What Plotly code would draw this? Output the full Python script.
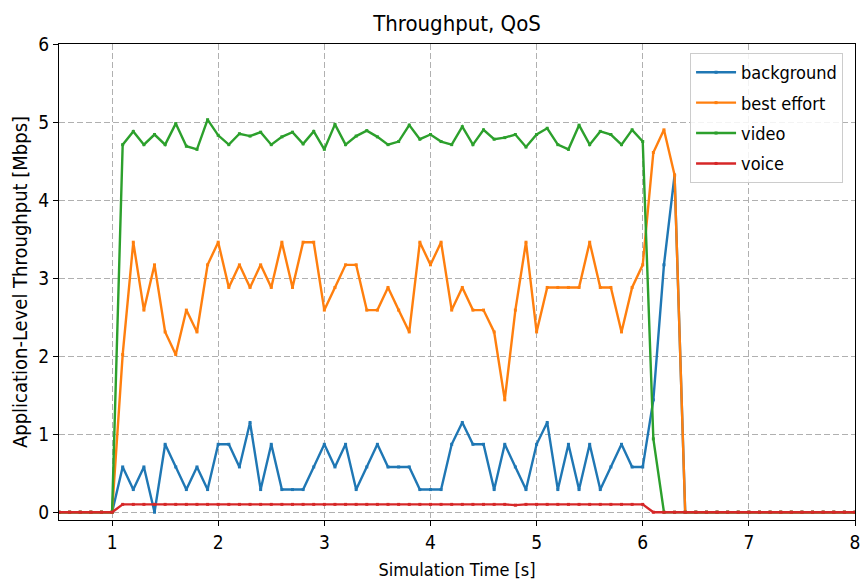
import plotly.graph_objects as go

# Sample times (s), 0.1 s bins shown from 0.5 to 8.0
time_s = [round(0.5 + 0.1 * i, 1) for i in range(76)]

background = [0, 0, 0, 0, 0, 0,
              0.58, 0.29, 0.58, 0.0, 0.87, 0.58, 0.29, 0.58, 0.29, 0.87,
              0.87, 0.58, 1.15, 0.29, 0.87, 0.29, 0.29, 0.29, 0.58, 0.87,
              0.58, 0.87, 0.29, 0.58, 0.87, 0.58, 0.58, 0.58, 0.29, 0.29,
              0.29, 0.87, 1.15, 0.87, 0.87, 0.29, 0.87, 0.58, 0.29, 0.87,
              1.15, 0.29, 0.87, 0.29, 0.87, 0.29, 0.58, 0.87, 0.58, 0.58,
              1.44, 3.17, 4.32,
              0, 0, 0, 0, 0, 0, 0, 0, 0, 0, 0, 0, 0, 0, 0, 0, 0]

best_effort = [0, 0, 0, 0, 0, 0,
               2.02, 3.46, 2.59, 3.17, 2.31, 2.02, 2.59, 2.31, 3.17, 3.46,
               2.88, 3.17, 2.88, 3.17, 2.88, 3.46, 2.88, 3.46, 3.46, 2.59,
               2.88, 3.17, 3.17, 2.59, 2.59, 2.88, 2.59, 2.31, 3.46, 3.17,
               3.46, 2.59, 2.88, 2.59, 2.59, 2.31, 1.44, 2.59, 3.46, 2.31,
               2.88, 2.88, 2.88, 2.88, 3.46, 2.88, 2.88, 2.31, 2.88, 3.17,
               4.61, 4.90, 4.32,
               0, 0, 0, 0, 0, 0, 0, 0, 0, 0, 0, 0, 0, 0, 0, 0, 0]

video = [0, 0, 0, 0, 0, 0,
         4.71, 4.88, 4.71, 4.84, 4.71, 4.98, 4.69, 4.65, 5.03, 4.83,
         4.71, 4.85, 4.82, 4.87, 4.71, 4.81, 4.87, 4.72, 4.88, 4.65,
         4.97, 4.71, 4.82, 4.89, 4.81, 4.71, 4.75, 4.96, 4.78, 4.84,
         4.75, 4.71, 4.94, 4.71, 4.90, 4.78, 4.80, 4.84, 4.68, 4.84,
         4.92, 4.71, 4.65, 4.96, 4.71, 4.88, 4.84, 4.71, 4.90, 4.75,
         0.94,
         0, 0, 0, 0, 0, 0, 0, 0, 0, 0, 0, 0, 0, 0, 0, 0, 0, 0, 0]

voice = [0, 0, 0, 0, 0, 0,
         0.1, 0.1, 0.1, 0.1, 0.1, 0.1, 0.1, 0.1, 0.1, 0.1,
         0.1, 0.1, 0.1, 0.1, 0.1, 0.1, 0.1, 0.1, 0.1, 0.1,
         0.1, 0.1, 0.1, 0.1, 0.1, 0.1, 0.1, 0.1, 0.1, 0.1,
         0.1, 0.1, 0.1, 0.1, 0.1, 0.1, 0.1, 0.09, 0.1, 0.1,
         0.1, 0.1, 0.1, 0.1, 0.1, 0.1, 0.1, 0.1, 0.1, 0.1,
         0, 0, 0, 0, 0, 0, 0, 0, 0, 0, 0, 0, 0, 0, 0, 0, 0, 0, 0, 0]

series_names = ["background", "best effort", "video", "voice"]
series_values = [background, best_effort, video, voice]
series_colors = ["#1f77b4", "#ff7f0e", "#2ca02c", "#d62728"]

x_ticks = [1, 2, 3, 4, 5, 6, 7, 8]
y_ticks = [0, 1, 2, 3, 4, 5, 6]

FONT = "DejaVu Sans Condensed, DejaVu Sans, sans-serif"

fig = go.Figure()
for name, vals, col in zip(series_names, series_values, series_colors):
    fig.add_trace(go.Scatter(
        x=time_s, y=vals, name=name, mode="lines+markers",
        line=dict(color=col, width=2.4),
        marker=dict(symbol="square", size=3, color=col),
        legendgroup=name,
        cliponaxis=True,
    ))

axis_common = dict(
    showline=True, linecolor="black", linewidth=1.3, mirror=True,
    ticks="outside", ticklen=5, tickcolor="black", tickwidth=1.2,
    showgrid=True, gridcolor="#b0b0b0", gridwidth=1, griddash="6px,3px",
    zeroline=False, automargin=False,
    tickfont=dict(family=FONT, size=19, color="black"),
)

fig.update_layout(
    width=863, height=583,
    margin=dict(l=59, r=8, t=44, b=63, autoexpand=False),
    paper_bgcolor="white", plot_bgcolor="white",
    font=dict(family=FONT, color="black"),
    title=dict(text="Throughput, QoS", x=(457 / 863), xanchor="center",
               y=1 - 23 / 583, yanchor="middle",
               font=dict(family=FONT, size=22, color="black")),
    xaxis=dict(range=[0.5, 8], tickvals=x_ticks,
               title=dict(text="Simulation Time [s]", standoff=11,
                          font=dict(family=FONT, size=18, color="black")),
               **axis_common),
    yaxis=dict(range=[-0.1, 6], tickvals=y_ticks,
               title=dict(text="Application-Level Throughput [Mbps]", standoff=5,
                          font=dict(family=FONT, size=20, color="black")),
               **axis_common),
    legend=dict(x=0.985, y=0.981, xanchor="right", yanchor="top",
                bgcolor="rgba(255,255,255,0.85)", bordercolor="#cccccc",
                borderwidth=1, font=dict(family=FONT, size=18, color="black"),
                traceorder="grouped", tracegroupgap=4, itemwidth=40),
    showlegend=True,
)

fig.write_html("out.html", config={"displayModeBar": False},
               post_script="document.body.style.margin='0px';document.body.style.overflow='hidden';")
